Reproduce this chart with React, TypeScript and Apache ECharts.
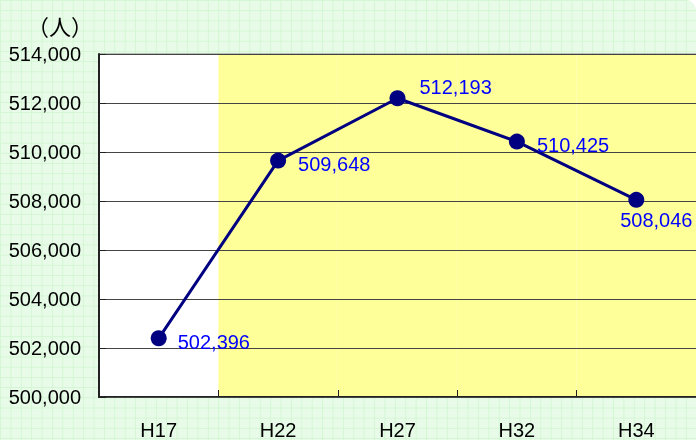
import React, { useEffect, useRef } from "react";
import * as echarts from "echarts";

const categories = ["H17", "H22", "H27", "H32", "H34"];
const population = [502396, 509648, 512193, 510425, 508046];
const yTicks = { min: 500000, max: 514000, interval: 2000 };
const bandColors = ["#ffffff", "#ffff99", "#ffff99", "#ffff99", "#ffff99"];
const labelPositions = ["right", "right", "right", "right", "bottom"];
const labelOffsets = [[0, 4], [1, 3], [3, -11], [1, 3], [20, -9]];
const unitLabel = "（人）";

const fmt = (v: number) => v.toLocaleString("en-US");

export default function App() {
  const ref = useRef<HTMLDivElement>(null);
  useEffect(() => {
    if (!ref.current) return;
    const chart = echarts.init(ref.current, undefined, { renderer: "svg" });
    const font = "'Liberation Sans', Arial, sans-serif";
    chart.setOption({
      animation: false,
      backgroundColor: "transparent",
      textStyle: { fontFamily: font },
      grid: {
        left: 99,
        top: 54,
        bottom: 40,
        right: -3,
        show: true,
        backgroundColor: "#ffffff",
        borderColor: "#808080",
        borderWidth: 1,
      },
      graphic: [
        {
          type: "text",
          x: 60,
          y: 25,
          style: {
            text: unitLabel,
            fontSize: 22,
            fontFamily: "'Noto Sans CJK JP', sans-serif",
            fill: "#000",
            align: "center",
            verticalAlign: "middle",
          },
        },
      ],
      xAxis: {
        type: "category",
        data: categories,
        boundaryGap: true,
        z: 0,
        axisLine: { show: true, lineStyle: { color: "#222", width: 2 } },
        axisTick: { show: true, inside: true, length: 7, lineStyle: { color: "#222", width: 1 } },
        axisLabel: { color: "#000", fontSize: 20, margin: 23, fontFamily: font },
        splitLine: { show: false },
        splitArea: { show: true, areaStyle: { color: bandColors } },
      },
      yAxis: {
        type: "value",
        min: yTicks.min,
        max: yTicks.max,
        interval: yTicks.interval,
        z: 2,
        axisLine: { show: true, lineStyle: { color: "#222", width: 2 } },
        axisTick: { show: true, inside: true, length: 7, lineStyle: { color: "#222", width: 1 } },
        axisLabel: {
          color: "#000",
          fontSize: 20,
          margin: 18,
          padding: [5, 0, 0, 0],
          fontFamily: font,
          formatter: (v: number) => fmt(v),
        },
        splitLine: { show: true, lineStyle: { color: "#444", width: 1 } },
      },
      series: [
        {
          type: "line",
          data: population.map((v, i) => ({
            value: v,
            label: {
              position: labelPositions[i],
              offset: labelOffsets[i],
            },
          })),
          z: 5,
          symbol: "circle",
          symbolSize: 16,
          lineStyle: { color: "#000080", width: 3 },
          itemStyle: { color: "#000080" },
          label: {
            show: true,
            color: "#0000ff",
            fontSize: 20,
            distance: 11,
            fontFamily: font,
            formatter: (p: any) => fmt(p.value),
          },
        },
      ],
    });
    return () => chart.dispose();
  }, []);
  return (
    <div
      style={{
        position: "fixed",
        left: 0,
        top: 0,
        width: 696,
        height: 440,
        backgroundColor: "#e8fbe8",
        backgroundImage:
          "linear-gradient(to right, #d3f6d3 1px, transparent 1px), linear-gradient(to bottom, #d3f6d3 1px, transparent 1px)",
        backgroundSize: "10.4px 10.2px",
        borderTopRightRadius: 10,
      }}
    >
      <div ref={ref} style={{ width: 696, height: 440 }} />
    </div>
  );
}
